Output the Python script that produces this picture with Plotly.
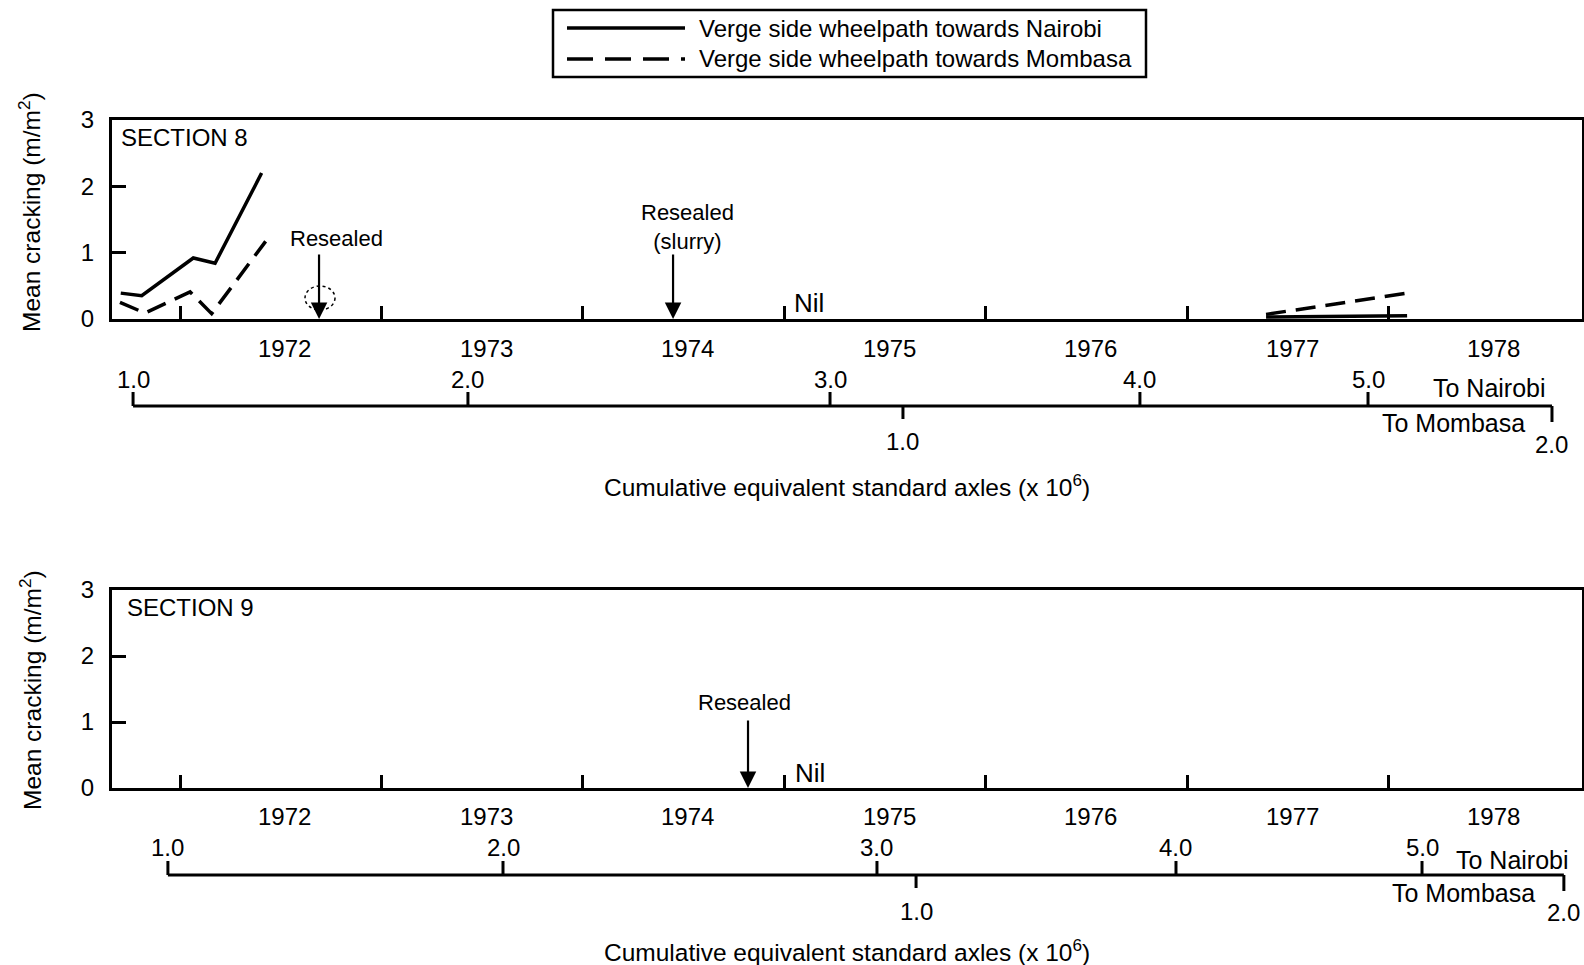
import plotly.graph_objects as go

W, H = 1584, 965
FONT = "Liberation Sans, Arial, Helvetica, sans-serif"

# ---------------- data ----------------
# Mean cracking (m/m2) against time (decimal year)
s8_nairobi_early_t = [1971.706, 1971.810, 1972.066, 1972.174, 1972.405]
s8_nairobi_early_v = [0.39, 0.35, 0.92, 0.84, 2.20]
s8_mombasa_early_t = [1971.702, 1971.826, 1972.050, 1972.157, 1972.425]
s8_mombasa_early_v = [0.25, 0.09, 0.41, 0.08, 1.17]
s8_nairobi_late_t = [1977.39, 1977.74, 1978.09]
s8_nairobi_late_v = [0.03, 0.04, 0.05]
s8_mombasa_late_t = [1977.39, 1977.74, 1978.09]
s8_mombasa_late_v = [0.07, 0.23, 0.39]

years = [1972, 1973, 1974, 1975, 1976, 1977, 1978]
year_labels = ["1972", "1973", "1974", "1975", "1976", "1977", "1978"]

# Dates at which the cumulative standard axles (x 10^6) reached each level
esa_nairobi_labels = ["1.0", "2.0", "3.0", "4.0", "5.0"]
esa_mombasa_labels = ["1.0", "2.0"]
s8_esa_nairobi_t = [1971.767, 1973.429, 1975.226, 1976.764, 1977.896]
s8_esa_mombasa_t = [1975.588, 1978.809]
s9_esa_nairobi_t = [1971.940, 1973.603, 1975.459, 1976.943, 1978.164]
s9_esa_mombasa_t = [1975.653, 1978.868]

# Maintenance events
s8_reseal_t = [1972.69, 1974.447]
s8_reseal_text = ["Resealed", "Resealed<br>(slurry)"]
s9_reseal_t = [1974.819]
s9_reseal_text = ["Resealed"]
nil_t = 1975.0

X_RANGE = [1971.6625, 1978.958]

def px(x):
    return x / W

def py(y):
    return 1 - y / H

fig = go.Figure()

SOLID = dict(color="black", width=3.5)
DASHED = dict(color="black", width=3.5, dash="20px,10px")

def add_line(t, v, style, xa, ya, name):
    fig.add_trace(go.Scatter(x=t, y=v, mode="lines", line=style, name=name,
                             showlegend=False, xaxis=xa, yaxis=ya,
                             hoverinfo="x+y"))

add_line(s8_nairobi_early_t, s8_nairobi_early_v, SOLID, "x", "y",
         "Verge side wheelpath towards Nairobi")
add_line(s8_mombasa_early_t, s8_mombasa_early_v, DASHED, "x", "y",
         "Verge side wheelpath towards Mombasa")
add_line(s8_nairobi_late_t, s8_nairobi_late_v, SOLID, "x", "y",
         "Verge side wheelpath towards Nairobi")
add_line(s8_mombasa_late_t, s8_mombasa_late_v, DASHED, "x", "y",
         "Verge side wheelpath towards Mombasa")
# Section 9: no cracking recorded (empty series keeps the axes)
fig.add_trace(go.Scatter(x=[], y=[], mode="lines", line=SOLID, showlegend=False,
                         xaxis="x2", yaxis="y2"))

xdom = [px(112), px(1582)]
common_x = dict(range=X_RANGE, showline=True, mirror=True, linewidth=3,
                linecolor="black", ticks="inside", tickvals=years, ticklen=13,
                tickwidth=3, tickcolor="black", showticklabels=False,
                showgrid=False, zeroline=False, fixedrange=True,
                automargin=False)
common_y = dict(range=[0, 3], showline=True, mirror=True, linewidth=3,
                linecolor="black", ticks="inside", tickvals=[0, 1, 2, 3],
                ticktext=["0", "1", "2", "3"], ticklen=14, tickwidth=3,
                tickcolor="black", showgrid=False, zeroline=False,
                ticklabelstandoff=10, automargin=False,
                tickfont=dict(family=FONT, size=24, color="black"),
                fixedrange=True)

fig.update_layout(
    width=W, height=H,
    margin=dict(l=0, r=0, t=0, b=0, pad=0, autoexpand=False),
    paper_bgcolor="white", plot_bgcolor="white",
    font=dict(family=FONT, size=24, color="black"),
    showlegend=False,
    xaxis=dict(domain=xdom, anchor="y", **common_x),
    yaxis=dict(domain=[py(319), py(120)], anchor="x", **common_y),
    xaxis2=dict(domain=xdom, anchor="y2", **common_x),
    yaxis2=dict(domain=[py(788), py(590)], anchor="x2", **common_y),
)

shapes = []
ann = []

def text(x, y, s, xref="paper", size=24, xanchor="center", xshift=0,
         textangle=0):
    ann.append(dict(x=x, y=y, xref=xref, yref="paper", text=s, showarrow=False,
                    xanchor=xanchor, yanchor="middle", xshift=xshift,
                    textangle=textangle,
                    font=dict(family=FONT, size=size, color="black")))

# ---- panel decorations ----
panels = [
    dict(xr="x", yr="y", title="SECTION 8", title_x=119, title_y=137,
         ytitle_y=212, year_y=348, esa_y=406, plot_bottom=319,
         n_t=s8_esa_nairobi_t, m_t=s8_esa_mombasa_t,
         n_lab_y=379, m_lab_y=[442, 444],
         to_n=(1489, 388), to_m=(1453, 423), axtitle_y=486,
         reseal_t=s8_reseal_t, reseal_text=s8_reseal_text,
         reseal_dx=[17, 14], reseal_text_y=[238, 227], arrow_top=253,
         nil=(8, 303)),
    dict(xr="x2", yr="y2", title="SECTION 9", title_x=125, title_y=607,
         ytitle_y=690, year_y=816, esa_y=875, plot_bottom=788,
         n_t=s9_esa_nairobi_t, m_t=s9_esa_mombasa_t,
         n_lab_y=847, m_lab_y=[911, 912],
         to_n=(1512, 860), to_m=(1463, 893), axtitle_y=950,
         reseal_t=s9_reseal_t, reseal_text=s9_reseal_text,
         reseal_dx=[-4], reseal_text_y=[702], arrow_top=719,
         nil=(9, 773)),
]

for p in panels:
    xr, yr = p["xr"], p["yr"]
    # section label
    text(px(p["title_x"]), py(p["title_y"]), p["title"], xanchor="left", size=24)
    # y-axis title
    text(px(30), py(p["ytitle_y"]), "Mean cracking (m/m<sup>2</sup>)",
         size=24.5, textangle=-90)
    # year labels centred within each year
    for yv, lab in zip(years, year_labels):
        text(yv + 0.52, py(p["year_y"]), lab, xref=xr)
    # cumulative esa scale
    ly = py(p["esa_y"])
    shapes.append(dict(type="line", xref=xr, yref="paper", x0=p["n_t"][0],
                       x1=p["m_t"][-1], y0=ly, y1=ly,
                       line=dict(color="black", width=3)))
    for t, lab in zip(p["n_t"], esa_nairobi_labels):
        shapes.append(dict(type="line", xref=xr, yref="paper", x0=t, x1=t,
                           y0=ly, y1=py(p["esa_y"] - 14),
                           line=dict(color="black", width=3)))
        text(t, py(p["n_lab_y"]), lab, xref=xr)
    for i, (t, lab) in enumerate(zip(p["m_t"], esa_mombasa_labels)):
        down = 13 if i == 0 else 16
        shapes.append(dict(type="line", xref=xr, yref="paper", x0=t, x1=t,
                           y0=ly, y1=py(p["esa_y"] + down),
                           line=dict(color="black", width=3)))
        text(t, py(p["m_lab_y"][i]), lab, xref=xr)
    text(px(p["to_n"][0]), py(p["to_n"][1]), "To Nairobi", size=25)
    text(px(p["to_m"][0]), py(p["to_m"][1]), "To Mombasa", size=25)
    text(px(847), py(p["axtitle_y"]),
         "Cumulative equivalent standard axles (x 10<sup>6</sup>)", size=24.5)
    # reseal events
    arrow_len = p["plot_bottom"] - p["arrow_top"]
    for t, s, dx, ty in zip(p["reseal_t"], p["reseal_text"], p["reseal_dx"],
                            p["reseal_text_y"]):
        ann.append(dict(x=t, y=0, xref=xr, yref=yr, text="", showarrow=True,
                        ax=0, ay=-arrow_len, axref="pixel", ayref="pixel",
                        arrowhead=2, arrowsize=1.5, arrowwidth=2.2,
                        arrowcolor="black"))
        text(t, py(ty), s, xref=xr, xshift=dx, size=22)
    # no cracking after this point
    text(nil_t, py(p["nil"][1]), "Nil", xref=xr, xanchor="left",
         xshift=p["nil"][0], size=26)

# dashed ring near the first reseal arrow
shapes.append(dict(type="circle", xref="paper", yref="paper",
                   x0=px(305), x1=px(335), y0=py(310), y1=py(286),
                   line=dict(color="black", width=1.5, dash="dot")))

# ---- legend ----
shapes.append(dict(type="rect", xref="paper", yref="paper", x0=px(553), x1=px(1146),
                   y0=py(77), y1=py(10), line=dict(color="black", width=2.5)))
shapes.append(dict(type="line", xref="paper", yref="paper", x0=px(567), x1=px(685),
                   y0=py(28), y1=py(28), line=dict(color="black", width=3.5)))
shapes.append(dict(type="line", xref="paper", yref="paper", x0=px(567), x1=px(685),
                   y0=py(59), y1=py(59),
                   line=dict(color="black", width=3.5, dash="26px,12px")))
text(px(697), py(28), "Verge side wheelpath towards Nairobi", xanchor="left",
     size=24)
text(px(697), py(59), "Verge side wheelpath towards Mombasa", xanchor="left",
     size=24)

fig.update_layout(shapes=shapes, annotations=ann)

fig.write_html("out.html")
